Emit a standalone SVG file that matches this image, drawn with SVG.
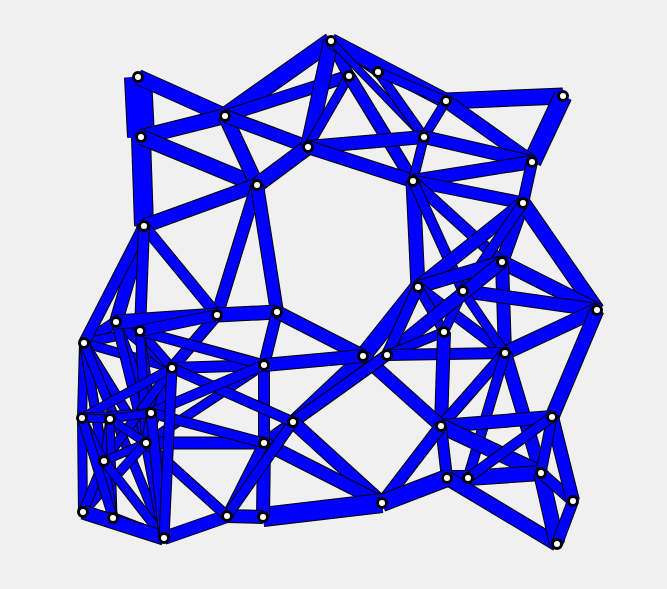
<svg xmlns="http://www.w3.org/2000/svg" width="667" height="589" viewBox="0 0 667 589">
<style>
.o{stroke:#000;stroke-linecap:butt}
.f{stroke:#0000ff;stroke-linecap:butt}
.nd circle{fill:#fff;stroke:#000;stroke-width:3}
</style>
<rect width="667" height="589" fill="#f0f0f0"/>
<g id="connectors">
<line class="o" x1="84" y1="343" x2="116" y2="322" stroke-width="12"/><line class="f" x1="84" y1="343" x2="116" y2="322" stroke-width="10"/>
<line class="o" x1="84" y1="343" x2="82" y2="418" stroke-width="10"/><line class="f" x1="84" y1="343" x2="82" y2="418" stroke-width="8"/>
<line class="o" x1="82" y1="418" x2="83" y2="512" stroke-width="10"/><line class="f" x1="82" y1="418" x2="83" y2="512" stroke-width="8"/>
<line class="o" x1="84" y1="343" x2="140" y2="331" stroke-width="10"/><line class="f" x1="84" y1="343" x2="140" y2="331" stroke-width="8"/>
<line class="o" x1="84" y1="343" x2="172" y2="368" stroke-width="10"/><line class="f" x1="84" y1="343" x2="172" y2="368" stroke-width="8"/>
<line class="o" x1="84" y1="343" x2="146" y2="443" stroke-width="10"/><line class="f" x1="84" y1="343" x2="146" y2="443" stroke-width="8"/>
<line class="o" x1="84" y1="343" x2="104" y2="461" stroke-width="10"/><line class="f" x1="84" y1="343" x2="104" y2="461" stroke-width="8"/>
<line class="o" x1="84" y1="343" x2="113" y2="518" stroke-width="10"/><line class="f" x1="84" y1="343" x2="113" y2="518" stroke-width="8"/>
<line class="o" x1="84" y1="343" x2="164" y2="538" stroke-width="10"/><line class="f" x1="84" y1="343" x2="164" y2="538" stroke-width="8"/>
<line class="o" x1="116" y1="322" x2="140" y2="331" stroke-width="10"/><line class="f" x1="116" y1="322" x2="140" y2="331" stroke-width="8"/>
<line class="o" x1="116" y1="322" x2="172" y2="368" stroke-width="11"/><line class="f" x1="116" y1="322" x2="172" y2="368" stroke-width="9"/>
<line class="o" x1="116" y1="322" x2="151" y2="413" stroke-width="10"/><line class="f" x1="116" y1="322" x2="151" y2="413" stroke-width="8"/>
<line class="o" x1="116" y1="322" x2="146" y2="443" stroke-width="10"/><line class="f" x1="116" y1="322" x2="146" y2="443" stroke-width="8"/>
<line class="o" x1="140" y1="331" x2="172" y2="368" stroke-width="10"/><line class="f" x1="140" y1="331" x2="172" y2="368" stroke-width="8"/>
<line class="o" x1="140" y1="331" x2="151" y2="413" stroke-width="10"/><line class="f" x1="140" y1="331" x2="151" y2="413" stroke-width="8"/>
<line class="o" x1="140" y1="331" x2="146" y2="443" stroke-width="10"/><line class="f" x1="140" y1="331" x2="146" y2="443" stroke-width="8"/>
<line class="o" x1="172" y1="368" x2="151" y2="413" stroke-width="10"/><line class="f" x1="172" y1="368" x2="151" y2="413" stroke-width="8"/>
<line class="o" x1="172" y1="368" x2="146" y2="443" stroke-width="10"/><line class="f" x1="172" y1="368" x2="146" y2="443" stroke-width="8"/>
<line class="o" x1="172" y1="368" x2="104" y2="461" stroke-width="10"/><line class="f" x1="172" y1="368" x2="104" y2="461" stroke-width="8"/>
<line class="o" x1="172" y1="368" x2="82" y2="418" stroke-width="10"/><line class="f" x1="172" y1="368" x2="82" y2="418" stroke-width="8"/>
<line class="o" x1="151" y1="413" x2="146" y2="443" stroke-width="10"/><line class="f" x1="151" y1="413" x2="146" y2="443" stroke-width="8"/>
<line class="o" x1="151" y1="413" x2="82" y2="418" stroke-width="10"/><line class="f" x1="151" y1="413" x2="82" y2="418" stroke-width="8"/>
<line class="o" x1="151" y1="413" x2="110" y2="419" stroke-width="9"/><line class="f" x1="151" y1="413" x2="110" y2="419" stroke-width="7"/>
<line class="o" x1="110" y1="419" x2="82" y2="418" stroke-width="9"/><line class="f" x1="110" y1="419" x2="82" y2="418" stroke-width="7"/>
<line class="o" x1="110" y1="419" x2="146" y2="443" stroke-width="9"/><line class="f" x1="110" y1="419" x2="146" y2="443" stroke-width="7"/>
<line class="o" x1="110" y1="419" x2="104" y2="461" stroke-width="9"/><line class="f" x1="110" y1="419" x2="104" y2="461" stroke-width="7"/>
<line class="o" x1="110" y1="419" x2="113" y2="518" stroke-width="9"/><line class="f" x1="110" y1="419" x2="113" y2="518" stroke-width="7"/>
<line class="o" x1="146" y1="443" x2="104" y2="461" stroke-width="9"/><line class="f" x1="146" y1="443" x2="104" y2="461" stroke-width="7"/>
<line class="o" x1="146" y1="443" x2="164" y2="538" stroke-width="11"/><line class="f" x1="146" y1="443" x2="164" y2="538" stroke-width="9"/>
<line class="o" x1="146" y1="443" x2="83" y2="512" stroke-width="10"/><line class="f" x1="146" y1="443" x2="83" y2="512" stroke-width="8"/>
<line class="o" x1="146" y1="443" x2="264" y2="365" stroke-width="10"/><line class="f" x1="146" y1="443" x2="264" y2="365" stroke-width="8"/>
<line class="o" x1="104" y1="461" x2="83" y2="512" stroke-width="10"/><line class="f" x1="104" y1="461" x2="83" y2="512" stroke-width="8"/>
<line class="o" x1="104" y1="461" x2="113" y2="518" stroke-width="10"/><line class="f" x1="104" y1="461" x2="113" y2="518" stroke-width="8"/>
<line class="o" x1="104" y1="461" x2="164" y2="538" stroke-width="10"/><line class="f" x1="104" y1="461" x2="164" y2="538" stroke-width="8"/>
<line class="o" x1="82" y1="418" x2="104" y2="461" stroke-width="9"/><line class="f" x1="82" y1="418" x2="104" y2="461" stroke-width="7"/>
<line class="o" x1="82" y1="418" x2="113" y2="518" stroke-width="10"/><line class="f" x1="82" y1="418" x2="113" y2="518" stroke-width="8"/>
<line class="o" x1="83" y1="512" x2="113" y2="518" stroke-width="10"/><line class="f" x1="83" y1="512" x2="113" y2="518" stroke-width="8"/>
<line class="o" x1="138" y1="77" x2="141" y2="137" stroke-width="28"/><line class="f" x1="138" y1="77" x2="141" y2="137" stroke-width="26"/>
<line class="o" x1="138" y1="77" x2="225" y2="116" stroke-width="16"/><line class="f" x1="138" y1="77" x2="225" y2="116" stroke-width="14"/>
<line class="o" x1="141" y1="137" x2="225" y2="116" stroke-width="16"/><line class="f" x1="141" y1="137" x2="225" y2="116" stroke-width="14"/>
<line class="o" x1="141" y1="137" x2="144" y2="226" stroke-width="20"/><line class="f" x1="141" y1="137" x2="144" y2="226" stroke-width="18"/>
<line class="o" x1="141" y1="137" x2="257" y2="185" stroke-width="16"/><line class="f" x1="141" y1="137" x2="257" y2="185" stroke-width="14"/>
<line class="o" x1="225" y1="116" x2="257" y2="185" stroke-width="15"/><line class="f" x1="225" y1="116" x2="257" y2="185" stroke-width="13"/>
<line class="o" x1="225" y1="116" x2="331" y2="41" stroke-width="18"/><line class="f" x1="225" y1="116" x2="331" y2="41" stroke-width="16"/>
<line class="o" x1="225" y1="116" x2="349" y2="76" stroke-width="13"/><line class="f" x1="225" y1="116" x2="349" y2="76" stroke-width="11"/>
<line class="o" x1="225" y1="116" x2="308" y2="147" stroke-width="14"/><line class="f" x1="225" y1="116" x2="308" y2="147" stroke-width="12"/>
<line class="o" x1="257" y1="185" x2="308" y2="147" stroke-width="16"/><line class="f" x1="257" y1="185" x2="308" y2="147" stroke-width="14"/>
<line class="o" x1="257" y1="185" x2="144" y2="226" stroke-width="15"/><line class="f" x1="257" y1="185" x2="144" y2="226" stroke-width="13"/>
<line class="o" x1="257" y1="185" x2="217" y2="315" stroke-width="13"/><line class="f" x1="257" y1="185" x2="217" y2="315" stroke-width="11"/>
<line class="o" x1="257" y1="185" x2="277" y2="312" stroke-width="14"/><line class="f" x1="257" y1="185" x2="277" y2="312" stroke-width="12"/>
<line class="o" x1="144" y1="226" x2="217" y2="315" stroke-width="12"/><line class="f" x1="144" y1="226" x2="217" y2="315" stroke-width="10"/>
<line class="o" x1="144" y1="226" x2="116" y2="322" stroke-width="14"/><line class="f" x1="144" y1="226" x2="116" y2="322" stroke-width="12"/>
<line class="o" x1="144" y1="226" x2="84" y2="343" stroke-width="12"/><line class="f" x1="144" y1="226" x2="84" y2="343" stroke-width="10"/>
<line class="o" x1="144" y1="226" x2="140" y2="331" stroke-width="12"/><line class="f" x1="144" y1="226" x2="140" y2="331" stroke-width="10"/>
<line class="o" x1="331" y1="41" x2="349" y2="76" stroke-width="12"/><line class="f" x1="331" y1="41" x2="349" y2="76" stroke-width="10"/>
<line class="o" x1="331" y1="41" x2="308" y2="147" stroke-width="16"/><line class="f" x1="331" y1="41" x2="308" y2="147" stroke-width="14"/>
<line class="o" x1="331" y1="41" x2="378" y2="72" stroke-width="10"/><line class="f" x1="331" y1="41" x2="378" y2="72" stroke-width="8"/>
<line class="o" x1="331" y1="41" x2="446" y2="101" stroke-width="16"/><line class="f" x1="331" y1="41" x2="446" y2="101" stroke-width="14"/>
<line class="o" x1="331" y1="41" x2="424" y2="137" stroke-width="8"/><line class="f" x1="331" y1="41" x2="424" y2="137" stroke-width="6"/>
<line class="o" x1="349" y1="76" x2="308" y2="147" stroke-width="10"/><line class="f" x1="349" y1="76" x2="308" y2="147" stroke-width="8"/>
<line class="o" x1="349" y1="76" x2="413" y2="181" stroke-width="13"/><line class="f" x1="349" y1="76" x2="413" y2="181" stroke-width="11"/>
<line class="o" x1="378" y1="72" x2="424" y2="137" stroke-width="10"/><line class="f" x1="378" y1="72" x2="424" y2="137" stroke-width="8"/>
<line class="o" x1="378" y1="72" x2="446" y2="101" stroke-width="10"/><line class="f" x1="378" y1="72" x2="446" y2="101" stroke-width="8"/>
<line class="o" x1="308" y1="147" x2="424" y2="137" stroke-width="14"/><line class="f" x1="308" y1="147" x2="424" y2="137" stroke-width="12"/>
<line class="o" x1="308" y1="147" x2="413" y2="181" stroke-width="14"/><line class="f" x1="308" y1="147" x2="413" y2="181" stroke-width="12"/>
<line class="o" x1="446" y1="101" x2="563" y2="96" stroke-width="17"/><line class="f" x1="446" y1="101" x2="563" y2="96" stroke-width="15"/>
<line class="o" x1="563" y1="96" x2="532" y2="162" stroke-width="19"/><line class="f" x1="563" y1="96" x2="532" y2="162" stroke-width="17"/>
<line class="o" x1="446" y1="101" x2="532" y2="162" stroke-width="14"/><line class="f" x1="446" y1="101" x2="532" y2="162" stroke-width="12"/>
<line class="o" x1="446" y1="101" x2="424" y2="137" stroke-width="10"/><line class="f" x1="446" y1="101" x2="424" y2="137" stroke-width="8"/>
<line class="o" x1="424" y1="137" x2="532" y2="162" stroke-width="14"/><line class="f" x1="424" y1="137" x2="532" y2="162" stroke-width="12"/>
<line class="o" x1="424" y1="137" x2="413" y2="181" stroke-width="10"/><line class="f" x1="424" y1="137" x2="413" y2="181" stroke-width="8"/>
<line class="o" x1="413" y1="181" x2="532" y2="162" stroke-width="14"/><line class="f" x1="413" y1="181" x2="532" y2="162" stroke-width="12"/>
<line class="o" x1="413" y1="181" x2="523" y2="203" stroke-width="13"/><line class="f" x1="413" y1="181" x2="523" y2="203" stroke-width="11"/>
<line class="o" x1="532" y1="162" x2="523" y2="203" stroke-width="12"/><line class="f" x1="532" y1="162" x2="523" y2="203" stroke-width="10"/>
<line class="o" x1="523" y1="203" x2="502" y2="262" stroke-width="14"/><line class="f" x1="523" y1="203" x2="502" y2="262" stroke-width="12"/>
<line class="o" x1="413" y1="181" x2="502" y2="262" stroke-width="12"/><line class="f" x1="413" y1="181" x2="502" y2="262" stroke-width="10"/>
<line class="o" x1="413" y1="181" x2="418" y2="287" stroke-width="15"/><line class="f" x1="413" y1="181" x2="418" y2="287" stroke-width="13"/>
<line class="o" x1="413" y1="181" x2="463" y2="291" stroke-width="11"/><line class="f" x1="413" y1="181" x2="463" y2="291" stroke-width="9"/>
<line class="o" x1="523" y1="203" x2="597" y2="310" stroke-width="16"/><line class="f" x1="523" y1="203" x2="597" y2="310" stroke-width="14"/>
<line class="o" x1="523" y1="203" x2="418" y2="287" stroke-width="14"/><line class="f" x1="523" y1="203" x2="418" y2="287" stroke-width="12"/>
<line class="o" x1="523" y1="203" x2="463" y2="291" stroke-width="11"/><line class="f" x1="523" y1="203" x2="463" y2="291" stroke-width="9"/>
<line class="o" x1="502" y1="262" x2="597" y2="310" stroke-width="15"/><line class="f" x1="502" y1="262" x2="597" y2="310" stroke-width="13"/>
<line class="o" x1="502" y1="262" x2="505" y2="353" stroke-width="14"/><line class="f" x1="502" y1="262" x2="505" y2="353" stroke-width="12"/>
<line class="o" x1="463" y1="291" x2="597" y2="310" stroke-width="14"/><line class="f" x1="463" y1="291" x2="597" y2="310" stroke-width="12"/>
<line class="o" x1="505" y1="353" x2="597" y2="310" stroke-width="15"/><line class="f" x1="505" y1="353" x2="597" y2="310" stroke-width="13"/>
<line class="o" x1="597" y1="310" x2="552" y2="417" stroke-width="15"/><line class="f" x1="597" y1="310" x2="552" y2="417" stroke-width="13"/>
<line class="o" x1="418" y1="287" x2="502" y2="262" stroke-width="14"/><line class="f" x1="418" y1="287" x2="502" y2="262" stroke-width="12"/>
<line class="o" x1="418" y1="287" x2="363" y2="356" stroke-width="17"/><line class="f" x1="418" y1="287" x2="363" y2="356" stroke-width="15"/>
<line class="o" x1="418" y1="287" x2="505" y2="353" stroke-width="12"/><line class="f" x1="418" y1="287" x2="505" y2="353" stroke-width="10"/>
<line class="o" x1="418" y1="287" x2="444" y2="332" stroke-width="10"/><line class="f" x1="418" y1="287" x2="444" y2="332" stroke-width="8"/>
<line class="o" x1="463" y1="291" x2="444" y2="332" stroke-width="10"/><line class="f" x1="463" y1="291" x2="444" y2="332" stroke-width="8"/>
<line class="o" x1="463" y1="291" x2="505" y2="353" stroke-width="10"/><line class="f" x1="463" y1="291" x2="505" y2="353" stroke-width="8"/>
<line class="o" x1="387" y1="355" x2="502" y2="262" stroke-width="14"/><line class="f" x1="387" y1="355" x2="502" y2="262" stroke-width="12"/>
<line class="o" x1="387" y1="355" x2="418" y2="287" stroke-width="12"/><line class="f" x1="387" y1="355" x2="418" y2="287" stroke-width="10"/>
<line class="o" x1="387" y1="355" x2="444" y2="332" stroke-width="10"/><line class="f" x1="387" y1="355" x2="444" y2="332" stroke-width="8"/>
<line class="o" x1="387" y1="355" x2="505" y2="353" stroke-width="12"/><line class="f" x1="387" y1="355" x2="505" y2="353" stroke-width="10"/>
<line class="o" x1="444" y1="332" x2="441" y2="426" stroke-width="14"/><line class="f" x1="444" y1="332" x2="441" y2="426" stroke-width="12"/>
<line class="o" x1="505" y1="353" x2="441" y2="426" stroke-width="12"/><line class="f" x1="505" y1="353" x2="441" y2="426" stroke-width="10"/>
<line class="o" x1="505" y1="353" x2="541" y2="473" stroke-width="14"/><line class="f" x1="505" y1="353" x2="541" y2="473" stroke-width="12"/>
<line class="o" x1="505" y1="353" x2="468" y2="478" stroke-width="11"/><line class="f" x1="505" y1="353" x2="468" y2="478" stroke-width="9"/>
<line class="o" x1="441" y1="426" x2="552" y2="417" stroke-width="14"/><line class="f" x1="441" y1="426" x2="552" y2="417" stroke-width="12"/>
<line class="o" x1="441" y1="426" x2="541" y2="473" stroke-width="16"/><line class="f" x1="441" y1="426" x2="541" y2="473" stroke-width="14"/>
<line class="o" x1="441" y1="426" x2="447" y2="478" stroke-width="12"/><line class="f" x1="441" y1="426" x2="447" y2="478" stroke-width="10"/>
<line class="o" x1="447" y1="478" x2="468" y2="478" stroke-width="16"/><line class="f" x1="447" y1="478" x2="468" y2="478" stroke-width="14"/>
<line class="o" x1="468" y1="478" x2="541" y2="473" stroke-width="16"/><line class="f" x1="468" y1="478" x2="541" y2="473" stroke-width="14"/>
<line class="o" x1="447" y1="478" x2="557" y2="544" stroke-width="15"/><line class="f" x1="447" y1="478" x2="557" y2="544" stroke-width="13"/>
<line class="o" x1="541" y1="473" x2="557" y2="544" stroke-width="16"/><line class="f" x1="541" y1="473" x2="557" y2="544" stroke-width="14"/>
<line class="o" x1="541" y1="473" x2="573" y2="501" stroke-width="12"/><line class="f" x1="541" y1="473" x2="573" y2="501" stroke-width="10"/>
<line class="o" x1="573" y1="501" x2="557" y2="544" stroke-width="12"/><line class="f" x1="573" y1="501" x2="557" y2="544" stroke-width="10"/>
<line class="o" x1="552" y1="417" x2="573" y2="501" stroke-width="14"/><line class="f" x1="552" y1="417" x2="573" y2="501" stroke-width="12"/>
<line class="o" x1="552" y1="417" x2="541" y2="473" stroke-width="11"/><line class="f" x1="552" y1="417" x2="541" y2="473" stroke-width="9"/>
<line class="o" x1="552" y1="417" x2="468" y2="478" stroke-width="11"/><line class="f" x1="552" y1="417" x2="468" y2="478" stroke-width="9"/>
<line class="o" x1="363" y1="356" x2="441" y2="426" stroke-width="14"/><line class="f" x1="363" y1="356" x2="441" y2="426" stroke-width="12"/>
<line class="o" x1="363" y1="356" x2="293" y2="422" stroke-width="14"/><line class="f" x1="363" y1="356" x2="293" y2="422" stroke-width="12"/>
<line class="o" x1="387" y1="355" x2="264" y2="443" stroke-width="12"/><line class="f" x1="387" y1="355" x2="264" y2="443" stroke-width="10"/>
<line class="o" x1="293" y1="422" x2="382" y2="503" stroke-width="14"/><line class="f" x1="293" y1="422" x2="382" y2="503" stroke-width="12"/>
<line class="o" x1="264" y1="443" x2="382" y2="503" stroke-width="14"/><line class="f" x1="264" y1="443" x2="382" y2="503" stroke-width="12"/>
<line class="o" x1="263" y1="517" x2="382" y2="503" stroke-width="20"/><line class="f" x1="263" y1="517" x2="382" y2="503" stroke-width="18"/>
<line class="o" x1="382" y1="503" x2="441" y2="426" stroke-width="13"/><line class="f" x1="382" y1="503" x2="441" y2="426" stroke-width="11"/>
<line class="o" x1="382" y1="503" x2="447" y2="478" stroke-width="18"/><line class="f" x1="382" y1="503" x2="447" y2="478" stroke-width="16"/>
<line class="o" x1="264" y1="443" x2="263" y2="517" stroke-width="14"/><line class="f" x1="264" y1="443" x2="263" y2="517" stroke-width="12"/>
<line class="o" x1="264" y1="365" x2="264" y2="443" stroke-width="12"/><line class="f" x1="264" y1="365" x2="264" y2="443" stroke-width="10"/>
<line class="o" x1="146" y1="443" x2="264" y2="443" stroke-width="13"/><line class="f" x1="146" y1="443" x2="264" y2="443" stroke-width="11"/>
<line class="o" x1="227" y1="516" x2="263" y2="517" stroke-width="14"/><line class="f" x1="227" y1="516" x2="263" y2="517" stroke-width="12"/>
<line class="o" x1="164" y1="538" x2="227" y2="516" stroke-width="14"/><line class="f" x1="164" y1="538" x2="227" y2="516" stroke-width="12"/>
<line class="o" x1="113" y1="518" x2="164" y2="538" stroke-width="12"/><line class="f" x1="113" y1="518" x2="164" y2="538" stroke-width="10"/>
<line class="o" x1="83" y1="512" x2="164" y2="538" stroke-width="15"/><line class="f" x1="83" y1="512" x2="164" y2="538" stroke-width="13"/>
<line class="o" x1="227" y1="516" x2="264" y2="443" stroke-width="11"/><line class="f" x1="227" y1="516" x2="264" y2="443" stroke-width="9"/>
<line class="o" x1="227" y1="516" x2="293" y2="422" stroke-width="11"/><line class="f" x1="227" y1="516" x2="293" y2="422" stroke-width="9"/>
<line class="o" x1="277" y1="312" x2="217" y2="315" stroke-width="15"/><line class="f" x1="277" y1="312" x2="217" y2="315" stroke-width="13"/>
<line class="o" x1="217" y1="315" x2="116" y2="322" stroke-width="15"/><line class="f" x1="217" y1="315" x2="116" y2="322" stroke-width="13"/>
<line class="o" x1="277" y1="312" x2="264" y2="365" stroke-width="12"/><line class="f" x1="277" y1="312" x2="264" y2="365" stroke-width="10"/>
<line class="o" x1="277" y1="312" x2="363" y2="356" stroke-width="14"/><line class="f" x1="277" y1="312" x2="363" y2="356" stroke-width="12"/>
<line class="o" x1="264" y1="365" x2="363" y2="356" stroke-width="14"/><line class="f" x1="264" y1="365" x2="363" y2="356" stroke-width="12"/>
<line class="o" x1="217" y1="315" x2="172" y2="368" stroke-width="12"/><line class="f" x1="217" y1="315" x2="172" y2="368" stroke-width="10"/>
<line class="o" x1="172" y1="368" x2="264" y2="365" stroke-width="12"/><line class="f" x1="172" y1="368" x2="264" y2="365" stroke-width="10"/>
<line class="o" x1="140" y1="331" x2="264" y2="365" stroke-width="11"/><line class="f" x1="140" y1="331" x2="264" y2="365" stroke-width="9"/>
<line class="o" x1="172" y1="368" x2="293" y2="422" stroke-width="11"/><line class="f" x1="172" y1="368" x2="293" y2="422" stroke-width="9"/>
<line class="o" x1="140" y1="331" x2="217" y2="315" stroke-width="12"/><line class="f" x1="140" y1="331" x2="217" y2="315" stroke-width="10"/>
<line class="o" x1="151" y1="413" x2="264" y2="365" stroke-width="11"/><line class="f" x1="151" y1="413" x2="264" y2="365" stroke-width="9"/>
<line class="o" x1="151" y1="413" x2="264" y2="443" stroke-width="11"/><line class="f" x1="151" y1="413" x2="264" y2="443" stroke-width="9"/>
<line class="o" x1="146" y1="443" x2="227" y2="516" stroke-width="11"/><line class="f" x1="146" y1="443" x2="227" y2="516" stroke-width="9"/>
<line class="o" x1="164" y1="538" x2="151" y2="413" stroke-width="11"/><line class="f" x1="164" y1="538" x2="151" y2="413" stroke-width="9"/>
<line class="o" x1="164" y1="538" x2="172" y2="368" stroke-width="11"/><line class="f" x1="164" y1="538" x2="172" y2="368" stroke-width="9"/>
</g>
<g class="nd">
<circle id="nA" cx="331" cy="41" r="4.5"/>
<circle id="nB" cx="138" cy="77" r="4.5"/>
<circle id="nC" cx="349" cy="76" r="4.5"/>
<circle id="nD" cx="378" cy="72" r="4.5"/>
<circle id="nE" cx="225" cy="116" r="4.5"/>
<circle id="nF" cx="446" cy="101" r="4.5"/>
<circle id="nG" cx="563" cy="96" r="4.5"/>
<circle id="nH" cx="141" cy="137" r="4.5"/>
<circle id="nI" cx="424" cy="137" r="4.5"/>
<circle id="nJ" cx="308" cy="147" r="4.5"/>
<circle id="nK" cx="532" cy="162" r="4.5"/>
<circle id="nL" cx="257" cy="185" r="4.5"/>
<circle id="nM" cx="413" cy="181" r="4.5"/>
<circle id="nN" cx="523" cy="203" r="4.5"/>
<circle id="nO" cx="144" cy="226" r="4.5"/>
<circle id="nP" cx="217" cy="315" r="4.5"/>
<circle id="nQ" cx="116" cy="322" r="4.5"/>
<circle id="nR" cx="140" cy="331" r="4.5"/>
<circle id="nS" cx="84" cy="343" r="4.5"/>
<circle id="nT" cx="172" cy="368" r="4.5"/>
<circle id="nU" cx="277" cy="312" r="4.5"/>
<circle id="nV" cx="418" cy="287" r="4.5"/>
<circle id="nW" cx="264" cy="365" r="4.5"/>
<circle id="nX" cx="363" cy="356" r="4.5"/>
<circle id="nY" cx="387" cy="355" r="4.5"/>
<circle id="nZ" cx="502" cy="262" r="4.5"/>
<circle id="na" cx="463" cy="291" r="4.5"/>
<circle id="nb" cx="597" cy="310" r="4.5"/>
<circle id="nc" cx="444" cy="332" r="4.5"/>
<circle id="nd" cx="505" cy="353" r="4.5"/>
<circle id="ne" cx="82" cy="418" r="4.5"/>
<circle id="nf" cx="110" cy="419" r="4.5"/>
<circle id="ng" cx="151" cy="413" r="4.5"/>
<circle id="nh" cx="146" cy="443" r="4.5"/>
<circle id="ni" cx="104" cy="461" r="4.5"/>
<circle id="nj" cx="83" cy="512" r="4.5"/>
<circle id="nk" cx="113" cy="518" r="4.5"/>
<circle id="nl" cx="164" cy="538" r="4.5"/>
<circle id="nm" cx="227" cy="516" r="4.5"/>
<circle id="nn" cx="293" cy="422" r="4.5"/>
<circle id="no" cx="264" cy="443" r="4.5"/>
<circle id="np" cx="382" cy="503" r="4.5"/>
<circle id="nq" cx="263" cy="517" r="4.5"/>
<circle id="nr" cx="441" cy="426" r="4.5"/>
<circle id="ns" cx="552" cy="417" r="4.5"/>
<circle id="nt" cx="541" cy="473" r="4.5"/>
<circle id="nu" cx="447" cy="478" r="4.5"/>
<circle id="nv" cx="468" cy="478" r="4.5"/>
<circle id="nw" cx="573" cy="501" r="4.5"/>
<circle id="nx" cx="557" cy="544" r="4.5"/>
</g>
</svg>
